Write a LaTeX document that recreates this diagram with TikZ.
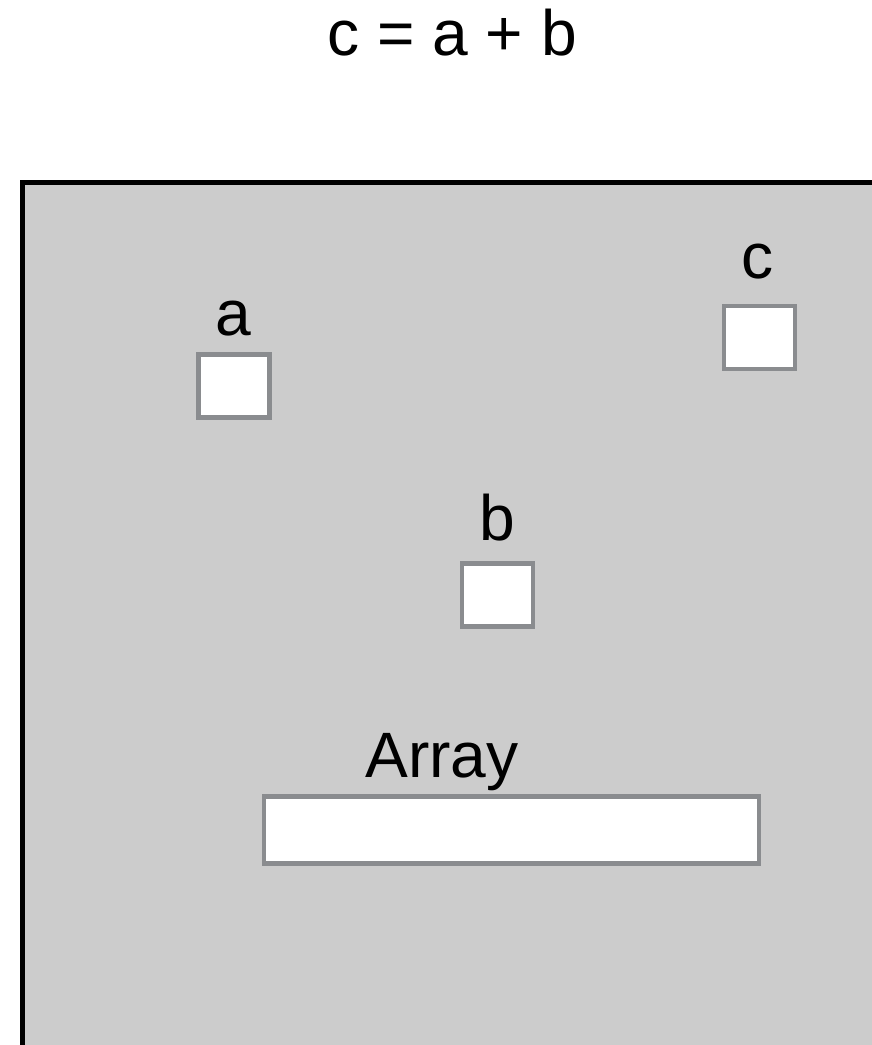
\documentclass[tikz,border=0pt]{standalone}
\usepackage{fontspec}
\setmainfont{Liberation Sans}
\usepackage{xcolor}
\definecolor{memgray}{RGB}{204,204,204}
\definecolor{cellgray}{RGB}{138,140,143}

\begin{document}
\begin{tikzpicture}[x=0.02cm,y=-0.02cm,
  cell/.style={draw=cellgray,line width=2.4pt,fill=white,inner sep=0pt,
  minimum width=1.42cm,minimum height=1.26cm},
  lbl/.style={anchor=base,inner sep=0pt,font=\fontsize{36.5}{42}\selectfont},
]
\useasboundingbox (0,0) rectangle (872,1045);
\clip (0,0) rectangle (872,1045);
% memory
\draw[line width=2.8pt,fill=memgray] (22.5,182.5) rectangle (920,1100);
\node[lbl] (title) at (452,55) {c = a + b};
% variables
\node[cell] (a) at (234,386) {};
\node[lbl] (la) at (233,335) {a};
\node[cell] (b) at (497.5,595) {};
\node[lbl] (lb) at (497,540) {b};
\node[cell] (c) at (759.5,337.5) {};
\node[lbl] (lc) at (758,278) {c};
\node[cell,minimum width=9.9cm,minimum height=1.34cm] (arr) at (511.5,830) {};
\node[lbl] (larr) at (442,777) {Array};
\end{tikzpicture}
\end{document}
